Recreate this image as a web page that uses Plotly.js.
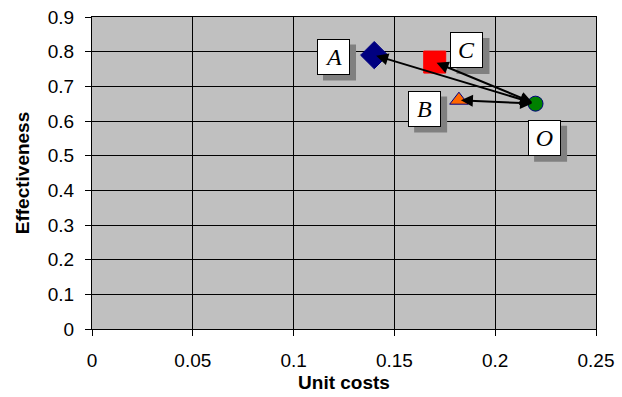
<!DOCTYPE html>
<html><head><meta charset="utf-8">
<script src="https://cdn.plot.ly/plotly-3.0.1.min.js"></script>
<style>html,body{margin:0;padding:0;background:#fff}</style>
</head><body><div id="chart" style="width:622px;height:397px"></div>
<script>
const pointNames = ["A", "C", "B", "O"];
const unitCosts = [0.14, 0.17, 0.182, 0.22];
const effectiveness = [0.79, 0.77, 0.66, 0.65];
const markerSymbols = ["diamond", "square", "triangle-up", "circle"];
const markerColors = ["#000080", "#FF0000", "#FF6600", "#008000"];
const markerSizes = [21, 22, 16, 15];
// label box positions (data units)
const labelX = [0.1198, 0.186, 0.165, 0.2245];
const labelY = [0.786, 0.805, 0.636, 0.552];
const xTicks = [0, 0.05, 0.1, 0.15, 0.2, 0.25];
const yTicks = [0, 0.1, 0.2, 0.3, 0.4, 0.5, 0.6, 0.7, 0.8, 0.9];

const traces = pointNames.map((n, i) => ({
  type: "scatter", mode: "markers", name: n,
  x: [unitCosts[i]], y: [effectiveness[i]],
  marker: {symbol: markerSymbols[i], color: markerColors[i], size: markerSizes[i],
    line: {color: i === 1 ? markerColors[i] : "#000080", width: 1}},
  hoverinfo: "skip"
}));

const annotations = [];
const shapes = [];
const oIdx = pointNames.indexOf("O");
["A", "C", "B"].forEach(n => {
  const i = pointNames.indexOf(n);
  annotations.push({
    x: unitCosts[i], y: effectiveness[i], xref: "x", yref: "y",
    ax: unitCosts[oIdx], ay: effectiveness[oIdx], axref: "x", ayref: "y",
    text: "", showarrow: true, arrowhead: 2, startarrowhead: 2, arrowside: "end+start",
    arrowsize: 1.2, startarrowsize: 1.2, arrowwidth: 2, arrowcolor: "#000",
    standoff: 2, startstandoff: 2
  });
});
const boxW = 33, boxH = 36, shadowOff = 6;
pointNames.forEach((n, i) => {
  shapes.push({type: "rect", layer: "above", xref: "x", yref: "y",
    xsizemode: "pixel", ysizemode: "pixel", xanchor: labelX[i], yanchor: labelY[i],
    x0: -boxW / 2 + shadowOff, x1: boxW / 2 + shadowOff,
    y0: -boxH / 2 - shadowOff, y1: boxH / 2 - shadowOff,
    fillcolor: "#808080", line: {width: 0}});
  annotations.push({x: labelX[i], y: labelY[i], xref: "x", yref: "y", showarrow: false,
    text: "<i>" + n + "</i>", width: 31, height: 34, align: "center", valign: "middle",
    borderwidth: 1, borderpad: 0, bgcolor: "#FFFFFF", bordercolor: "#000000",
    font: {family: "Liberation Serif, Times New Roman, serif", size: 24, color: "#000"}});
});

const layout = {
  width: 622, height: 397,
  margin: {l: 92, r: 26, t: 17, b: 68},
  paper_bgcolor: "#FFFFFF", plot_bgcolor: "#C0C0C0",
  showlegend: false,
  font: {family: "Liberation Sans, Arial, sans-serif", size: 19, color: "#000"},
  xaxis: {range: [0, 0.25], tickvals: xTicks, ticktext: xTicks.map(String),
    showgrid: true, gridcolor: "#000", gridwidth: 1, zeroline: false,
    showline: true, linecolor: "#000", linewidth: 1, mirror: true,
    ticks: "outside", ticklen: 6, tickcolor: "#000", ticklabelstandoff: 8,
    title: {text: "<b>Unit costs</b>", font: {size: 19}, standoff: 5}},
  yaxis: {range: [0, 0.9], tickvals: yTicks, ticktext: yTicks.map(String),
    showgrid: true, gridcolor: "#000", gridwidth: 1, zeroline: false,
    showline: true, linecolor: "#000", linewidth: 1, mirror: true,
    ticks: "outside", ticklen: 6, tickcolor: "#000", ticklabelstandoff: 7,
    title: {text: "<b>Effectiveness</b>", font: {size: 19}, standoff: 13}},
  shapes: shapes,
  annotations: annotations
};
Plotly.newPlot("chart", traces, layout, {displayModeBar: false, staticPlot: true});
</script></body></html>
